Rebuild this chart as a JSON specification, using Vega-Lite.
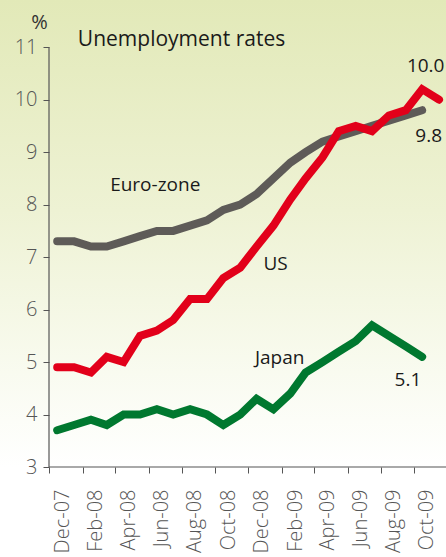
{
  "$schema": "https://vega.github.io/schema/vega-lite/v6.json",
  "width": 446,
  "height": 467,
  "autosize": {"type": "none"},
  "padding": {"left": 0, "top": 0, "right": 0, "bottom": 90},
  "background": "#ffffff",
  "config": {
    "view": {"stroke": null},
    "font": "Open Sans",
    "axis": {"labelFont": "Open Sans", "titleFont": "Open Sans", "grid": false, "labelFontWeight": 300}
  },
  "datasets": {
    "rates": [
      {"date": "2007-12-16", "series": "Euro-zone", "rate": 7.3},
      {"date": "2008-01-16", "series": "Euro-zone", "rate": 7.3},
      {"date": "2008-02-16", "series": "Euro-zone", "rate": 7.2},
      {"date": "2008-03-16", "series": "Euro-zone", "rate": 7.2},
      {"date": "2008-04-16", "series": "Euro-zone", "rate": 7.3},
      {"date": "2008-05-16", "series": "Euro-zone", "rate": 7.4},
      {"date": "2008-06-16", "series": "Euro-zone", "rate": 7.5},
      {"date": "2008-07-16", "series": "Euro-zone", "rate": 7.5},
      {"date": "2008-08-16", "series": "Euro-zone", "rate": 7.6},
      {"date": "2008-09-16", "series": "Euro-zone", "rate": 7.7},
      {"date": "2008-10-16", "series": "Euro-zone", "rate": 7.9},
      {"date": "2008-11-16", "series": "Euro-zone", "rate": 8.0},
      {"date": "2008-12-16", "series": "Euro-zone", "rate": 8.2},
      {"date": "2009-01-16", "series": "Euro-zone", "rate": 8.5},
      {"date": "2009-02-16", "series": "Euro-zone", "rate": 8.8},
      {"date": "2009-03-16", "series": "Euro-zone", "rate": 9.0},
      {"date": "2009-04-16", "series": "Euro-zone", "rate": 9.2},
      {"date": "2009-05-16", "series": "Euro-zone", "rate": 9.3},
      {"date": "2009-06-16", "series": "Euro-zone", "rate": 9.4},
      {"date": "2009-07-16", "series": "Euro-zone", "rate": 9.5},
      {"date": "2009-08-16", "series": "Euro-zone", "rate": 9.6},
      {"date": "2009-09-16", "series": "Euro-zone", "rate": 9.7},
      {"date": "2009-10-16", "series": "Euro-zone", "rate": 9.8},
      {"date": "2007-12-16", "series": "Japan", "rate": 3.7},
      {"date": "2008-01-16", "series": "Japan", "rate": 3.8},
      {"date": "2008-02-16", "series": "Japan", "rate": 3.9},
      {"date": "2008-03-16", "series": "Japan", "rate": 3.8},
      {"date": "2008-04-16", "series": "Japan", "rate": 4.0},
      {"date": "2008-05-16", "series": "Japan", "rate": 4.0},
      {"date": "2008-06-16", "series": "Japan", "rate": 4.1},
      {"date": "2008-07-16", "series": "Japan", "rate": 4.0},
      {"date": "2008-08-16", "series": "Japan", "rate": 4.1},
      {"date": "2008-09-16", "series": "Japan", "rate": 4.0},
      {"date": "2008-10-16", "series": "Japan", "rate": 3.8},
      {"date": "2008-11-16", "series": "Japan", "rate": 4.0},
      {"date": "2008-12-16", "series": "Japan", "rate": 4.3},
      {"date": "2009-01-16", "series": "Japan", "rate": 4.1},
      {"date": "2009-02-16", "series": "Japan", "rate": 4.4},
      {"date": "2009-03-16", "series": "Japan", "rate": 4.8},
      {"date": "2009-04-16", "series": "Japan", "rate": 5.0},
      {"date": "2009-05-16", "series": "Japan", "rate": 5.2},
      {"date": "2009-06-16", "series": "Japan", "rate": 5.4},
      {"date": "2009-07-16", "series": "Japan", "rate": 5.7},
      {"date": "2009-08-16", "series": "Japan", "rate": 5.5},
      {"date": "2009-09-16", "series": "Japan", "rate": 5.3},
      {"date": "2009-10-16", "series": "Japan", "rate": 5.1},
      {"date": "2007-12-16", "series": "US", "rate": 4.9},
      {"date": "2008-01-16", "series": "US", "rate": 4.9},
      {"date": "2008-02-16", "series": "US", "rate": 4.8},
      {"date": "2008-03-16", "series": "US", "rate": 5.1},
      {"date": "2008-04-16", "series": "US", "rate": 5.0},
      {"date": "2008-05-16", "series": "US", "rate": 5.5},
      {"date": "2008-06-16", "series": "US", "rate": 5.6},
      {"date": "2008-07-16", "series": "US", "rate": 5.8},
      {"date": "2008-08-16", "series": "US", "rate": 6.2},
      {"date": "2008-09-16", "series": "US", "rate": 6.2},
      {"date": "2008-10-16", "series": "US", "rate": 6.6},
      {"date": "2008-11-16", "series": "US", "rate": 6.8},
      {"date": "2008-12-16", "series": "US", "rate": 7.2},
      {"date": "2009-01-16", "series": "US", "rate": 7.6},
      {"date": "2009-02-16", "series": "US", "rate": 8.1},
      {"date": "2009-03-16", "series": "US", "rate": 8.5},
      {"date": "2009-04-16", "series": "US", "rate": 8.9},
      {"date": "2009-05-16", "series": "US", "rate": 9.4},
      {"date": "2009-06-16", "series": "US", "rate": 9.5},
      {"date": "2009-07-16", "series": "US", "rate": 9.4},
      {"date": "2009-08-16", "series": "US", "rate": 9.7},
      {"date": "2009-09-16", "series": "US", "rate": 9.8},
      {"date": "2009-10-16", "series": "US", "rate": 10.2},
      {"date": "2009-11-16", "series": "US", "rate": 10.0}
    ]
  },
  "layer": [
    {
      "data": {"values": [{}]},
      "mark": {
        "type": "rect",
        "fill": {
          "gradient": "linear", "x1": 0, "y1": 0, "x2": 0, "y2": 1,
          "stops": [
            {"offset": 0, "color": "#e2e9b8"},
            {"offset": 0.45, "color": "#eef2d4"},
            {"offset": 0.8, "color": "#f9fbf0"},
            {"offset": 1, "color": "#ffffff"}
          ]
        }
      },
      "encoding": {}
    },
    {
      "data": {"name": "rates"},
      "mark": {"type": "line", "strokeWidth": 8, "strokeCap": "round", "strokeJoin": "miter"},
      "encoding": {
        "x": {
          "field": "date", "type": "temporal",
          "scale": {
            "type": "utc",
            "domain": [
              {"year": 2007, "month": 9, "date": 2, "hours": 1, "utc": true},
              {"year": 2009, "month": 11, "date": 28, "hours": 19, "utc": true}
            ],
            "nice": false
          },
          "axis": {
            "zindex": 1,
            "values": [
              {"year": 2007, "month": 12, "date": 1, "utc": true},
              {"year": 2008, "month": 2, "date": 1, "utc": true},
              {"year": 2008, "month": 4, "date": 1, "utc": true},
              {"year": 2008, "month": 6, "date": 1, "utc": true},
              {"year": 2008, "month": 8, "date": 1, "utc": true},
              {"year": 2008, "month": 10, "date": 1, "utc": true},
              {"year": 2008, "month": 12, "date": 1, "utc": true},
              {"year": 2009, "month": 2, "date": 1, "utc": true},
              {"year": 2009, "month": 4, "date": 1, "utc": true},
              {"year": 2009, "month": 6, "date": 1, "utc": true},
              {"year": 2009, "month": 8, "date": 1, "utc": true},
              {"year": 2009, "month": 10, "date": 1, "utc": true}
            ],
            "format": "%b-%y",
            "title": null,
            "domain": false,
            "labelAngle": -90,
            "labelFontSize": 20,
            "labelColor": "#555555",
            "labelPadding": 16,
            "labelFlush": false,
            "labelOverlap": false,
            "tickSize": 6,
            "tickColor": "#555555",
            "labelOffset": 13
          }
        },
        "y": {
          "field": "rate", "type": "quantitative",
          "scale": {"domain": [3, 11.9], "nice": false, "zero": false},
          "axis": {
            "zindex": 1,
            "values": [3, 4, 5, 6, 7, 8, 9, 10, 11],
            "offset": -49,
            "domain": false,
            "tickSize": 6,
            "tickColor": "#555555",
            "labelFontSize": 20,
            "labelColor": "#555555",
            "labelPadding": 6,
            "title": "%",
            "titleAngle": 0,
            "titleX": -10,
            "titleY": 28,
            "titleAlign": "center",
            "titleBaseline": "alphabetic",
            "titleFontSize": 20,
            "titleFontWeight": "normal",
            "titleColor": "#333333"
          }
        },
        "color": {
          "field": "series", "type": "nominal",
          "scale": {"domain": ["Euro-zone", "Japan", "US"], "range": ["#5e5b58", "#00782f", "#e2001a"]},
          "legend": null
        }
      }
    },
    {
      "data": {"values": [{}]},
      "mark": {"type": "rule", "color": "#555555", "strokeWidth": 1.2},
      "encoding": {
        "x": {"datum": {"year": 2007, "month": 12, "date": 1, "utc": true}, "type": "temporal"},
        "y": {"datum": 3, "type": "quantitative"},
        "y2": {"datum": 11}
      }
    },
    {
      "data": {"values": [{}]},
      "mark": {"type": "rule", "color": "#555555", "strokeWidth": 1.2},
      "encoding": {
        "x": {"datum": {"year": 2007, "month": 12, "date": 1, "utc": true}, "type": "temporal"},
        "x2": {"datum": {"year": 2009, "month": 11, "date": 28, "hours": 19, "utc": true}},
        "y": {"datum": 3, "type": "quantitative"}
      }
    },
    {
      "data": {"values": [{}]},
      "mark": {"type": "text", "text": "Unemployment rates", "align": "left", "baseline": "alphabetic", "fontSize": 21, "color": "#1a1a1a"},
      "encoding": {"x": {"datum": {"year": 2008, "month": 1, "date": 23, "utc": true}, "type": "temporal"}, "y": {"datum": 11.02, "type": "quantitative"}}
    },
    {
      "data": {"values": [{}]},
      "mark": {"type": "text", "text": "Euro-zone", "align": "center", "baseline": "middle", "fontSize": 19, "color": "#1a1a1a"},
      "encoding": {"x": {"datum": {"year": 2008, "month": 6, "date": 13, "utc": true}, "type": "temporal"}, "y": {"datum": 8.37, "type": "quantitative"}}
    },
    {
      "data": {"values": [{}]},
      "mark": {"type": "text", "text": "US", "align": "center", "baseline": "middle", "fontSize": 19, "color": "#1a1a1a"},
      "encoding": {"x": {"datum": {"year": 2009, "month": 1, "date": 20, "utc": true}, "type": "temporal"}, "y": {"datum": 6.87, "type": "quantitative"}}
    },
    {
      "data": {"values": [{}]},
      "mark": {"type": "text", "text": "Japan", "align": "left", "baseline": "middle", "fontSize": 19, "color": "#1a1a1a"},
      "encoding": {"x": {"datum": {"year": 2008, "month": 12, "date": 13, "utc": true}, "type": "temporal"}, "y": {"datum": 5.08, "type": "quantitative"}}
    },
    {
      "data": {"values": [{}]},
      "mark": {"type": "text", "text": "10.0", "align": "left", "baseline": "middle", "fontSize": 19, "color": "#1a1a1a"},
      "encoding": {"x": {"datum": {"year": 2009, "month": 9, "date": 18, "utc": true}, "type": "temporal"}, "y": {"datum": 10.64, "type": "quantitative"}}
    },
    {
      "data": {"values": [{}]},
      "mark": {"type": "text", "text": "9.8", "align": "center", "baseline": "middle", "fontSize": 19, "color": "#1a1a1a"},
      "encoding": {"x": {"datum": {"year": 2009, "month": 10, "date": 28, "utc": true}, "type": "temporal"}, "y": {"datum": 9.3, "type": "quantitative"}}
    },
    {
      "data": {"values": [{}]},
      "mark": {"type": "text", "text": "5.1", "align": "center", "baseline": "middle", "fontSize": 19, "color": "#1a1a1a"},
      "encoding": {"x": {"datum": {"year": 2009, "month": 9, "date": 20, "utc": true}, "type": "temporal"}, "y": {"datum": 4.65, "type": "quantitative"}}
    }
  ]
}
